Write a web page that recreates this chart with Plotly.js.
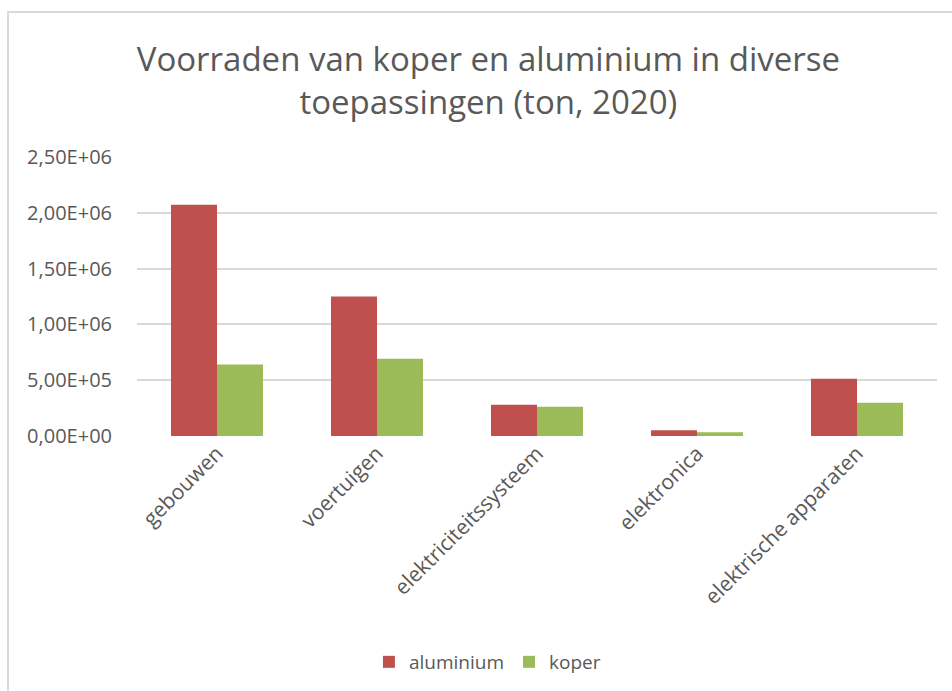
<!DOCTYPE html>
<html>
<head>
<meta charset="utf-8">
<script src="https://cdn.plot.ly/plotly-3.0.1.min.js"></script>
<style>
  html, body { margin: 0; padding: 0; background: #fff; }
  #wrap { position: relative; width: 952px; height: 691px; overflow: hidden; }
  #frame { position: absolute; left: 7px; top: 11px; width: 1000px; height: 800px; border-left: 2px solid #d9d9d9; border-top: 2px solid #d9d9d9; pointer-events: none; }
  #chart { position: absolute; left: 0; top: 0; width: 952px; height: 691px; }
</style>
</head>
<body>
<div id="wrap">
  <div id="chart"></div>
  <div id="frame"></div>
</div>
<script>
const categories = ["gebouwen", "voertuigen", "elektriciteitssysteem", "elektronica", "elektrische apparaten"];
const aluminium = [2072000, 1250000, 281000, 51000, 514000];
const koper = [640000, 693000, 263000, 33000, 299000];
const yTickVals = [0, 500000, 1000000, 1500000, 2000000, 2500000];
const yTickText = ["0,00E+00", "5,00E+05", "1,00E+06", "1,50E+06", "2,00E+06", "2,50E+06"];

const fontFam = "Open Sans, Lato, sans-serif";
const grey = "#595959";

const traces = [
  { type: "bar", name: "aluminium", x: categories, y: aluminium, marker: { color: "#C0504D" } },
  { type: "bar", name: "koper", x: categories, y: koper, marker: { color: "#9BBB59" } }
];

const layout = {
  width: 952, height: 691,
  paper_bgcolor: "#fff", plot_bgcolor: "#fff",
  margin: { l: 137, r: 15, t: 157, b: 255 },
  barmode: "group",
  bargap: 0.425,
  bargroupgap: 0,
  title: {
    text: "Voorraden van koper en aluminium in diverse<br>toepassingen (ton, 2020)",
    font: { family: fontFam, size: 33, color: grey },
    xref: "container", yref: "container",
    x: 0.513, xanchor: "center", y: 0.897, yanchor: "middle"
  },
  xaxis: {
    tickangle: -45,
    tickfont: { family: fontFam, size: 21, color: grey },
    showgrid: false, zeroline: false, showline: false, ticks: ""
  },
  yaxis: {
    range: [0, 2500000],
    tickvals: yTickVals, ticktext: yTickText,
    tickfont: { family: fontFam, size: 20, color: grey },
    showgrid: true, gridcolor: "#d9d9d9", gridwidth: 2,
    zeroline: false, showline: false, ticks: "", ticklabelstandoff: 24
  },
  legend: {
    orientation: "h", x: 0.512, xanchor: "center",
    xref: "container", yref: "container", y: 0.042, yanchor: "middle",
    font: { family: fontFam, size: 19, color: grey },
    itemwidth: 30
  },
  showlegend: true
};

Plotly.newPlot("chart", traces, layout, { displayModeBar: false, staticPlot: true });
</script>
</body>
</html>
